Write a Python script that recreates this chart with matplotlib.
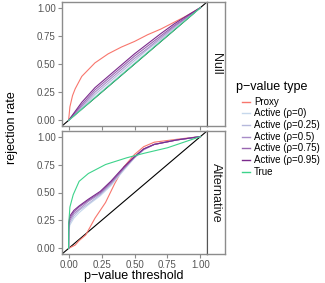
import matplotlib
matplotlib.use("Agg")
import matplotlib.pyplot as plt
from matplotlib.lines import Line2D

plt.rcParams["font.family"] = ["Liberation Sans", "DejaVu Sans"]

# ---- data ----
series_names = ["Proxy", "Active (\u03c1=0)", "Active (\u03c1=0.25)", "Active (\u03c1=0.5)",
                "Active (\u03c1=0.75)", "Active (\u03c1=0.95)", "True"]
series_colors = ["#F8766D", "#c6d8ec", "#b6b9dc", "#a88cc8", "#9865b0", "#7b2a8c", "#3dd38b"]

# Null panel
null_proxy_x = [0, 0.01, 0.03, 0.05, 0.1, 0.2, 0.3, 0.4, 0.5, 0.6, 0.7, 0.8, 0.9, 1.0]
null_proxy_y = [0, 0.12, 0.22, 0.28, 0.39, 0.51, 0.59, 0.65, 0.70, 0.76, 0.81, 0.87, 0.93, 1.0]
null_x = [0, 0.05, 0.1, 0.2, 0.3, 0.4, 0.5, 0.6, 0.7, 0.8, 0.9, 1.0]
null_act0 = [0, 0.05, 0.10, 0.21, 0.31, 0.41, 0.51, 0.61, 0.71, 0.81, 0.905, 1.0]
null_act25 = [0, 0.055, 0.11, 0.23, 0.33, 0.43, 0.53, 0.63, 0.72, 0.82, 0.91, 1.0]
null_act50 = [0, 0.06, 0.125, 0.25, 0.35, 0.45, 0.55, 0.64, 0.735, 0.83, 0.915, 1.0]
null_act75 = [0, 0.07, 0.14, 0.27, 0.37, 0.47, 0.57, 0.66, 0.75, 0.84, 0.92, 1.0]
null_act95 = [0, 0.08, 0.16, 0.29, 0.39, 0.49, 0.59, 0.68, 0.77, 0.855, 0.93, 1.0]
null_true = [0, 0.05, 0.1, 0.2, 0.3, 0.4, 0.5, 0.6, 0.7, 0.8, 0.9, 1.0]

# Alternative panel
alt_proxy_x = [0, 0.05, 0.08, 0.13, 0.2, 0.28, 0.35, 0.42, 0.5, 0.57, 0.65, 0.85, 1.0]
alt_proxy_y = [0, 0.03, 0.07, 0.12, 0.27, 0.41, 0.58, 0.73, 0.84, 0.91, 0.95, 0.98, 1.0]
alt_x = [0, 0.001, 0.01, 0.04, 0.08, 0.15, 0.24, 0.32, 0.42, 0.5, 0.57, 0.65, 0.82, 1.0]
alt_act0 = [0, 0.15, 0.21, 0.27, 0.32, 0.39, 0.47, 0.56, 0.70, 0.81, 0.88, 0.93, 0.97, 1.0]
alt_act25 = [0, 0.17, 0.23, 0.29, 0.34, 0.40, 0.48, 0.57, 0.71, 0.81, 0.885, 0.93, 0.97, 1.0]
alt_act50 = [0, 0.19, 0.25, 0.31, 0.35, 0.42, 0.49, 0.58, 0.715, 0.815, 0.885, 0.93, 0.97, 1.0]
alt_act75 = [0, 0.205, 0.27, 0.325, 0.37, 0.43, 0.50, 0.59, 0.72, 0.82, 0.89, 0.93, 0.97, 1.0]
alt_act95 = [0, 0.22, 0.29, 0.34, 0.38, 0.44, 0.51, 0.60, 0.73, 0.82, 0.89, 0.93, 0.97, 1.0]
alt_true_x = [0, 0.001, 0.01, 0.035, 0.08, 0.15, 0.28, 0.44, 0.57, 0.75, 1.0]
alt_true_y = [0, 0.22, 0.37, 0.48, 0.60, 0.67, 0.75, 0.81, 0.85, 0.90, 1.0]

ticks = [0, 0.25, 0.5, 0.75, 1.0]
tick_labels = ["0.00", "0.25", "0.50", "0.75", "1.00"]

W, H = 325, 283
fig = plt.figure(figsize=(W / 100, H / 100), dpi=100)
fig.patch.set_facecolor("white")


def px(left, top, right, bottom):
    return [left / W, (H - bottom) / H, (right - left) / W, (bottom - top) / H]


border = "#8c8c8c"


def style_panel(ax, show_x):
    ax.set_xlim(-0.05, 1.05)
    ax.set_ylim(-0.05, 1.05)
    ax.set_xticks(ticks)
    ax.set_yticks(ticks)
    ax.set_yticklabels(tick_labels)
    if show_x:
        ax.set_xticklabels(tick_labels)
    else:
        ax.set_xticklabels([])
        ax.tick_params(axis="x", length=0)
    ax.tick_params(colors=border, labelcolor="#555555", labelsize=7, length=3, width=0.8, pad=1.5)
    for s in ax.spines.values():
        s.set_color(border)
        s.set_linewidth(1.0)


def strip(rect, label):
    sax = fig.add_axes(rect)
    sax.set_xticks([])
    sax.set_yticks([])
    for s in sax.spines.values():
        s.set_color(border)
        s.set_linewidth(1.0)
    sax.spines["left"].set_color("#555555")
    sax.spines["left"].set_linewidth(0.8)
    sax.text(0.5, 0.5, label, rotation=270, ha="center", va="center",
             fontsize=9, color="#1a1a1a", transform=sax.transAxes)


lw = 0.8

# Null panel
ax1 = fig.add_axes(px(62, 2, 207, 126))
ax1.plot([-0.05, 1.05], [-0.05, 1.05], color="black", lw=lw)
ax1.plot(null_proxy_x, null_proxy_y, color=series_colors[0], lw=lw)
for ys, c in zip([null_act0, null_act25, null_act50, null_act75, null_act95], series_colors[1:6]):
    ax1.plot(null_x, ys, color=c, lw=lw)
ax1.plot(null_x, null_true, color=series_colors[6], lw=lw)
style_panel(ax1, False)
strip(px(207, 2, 225, 126), "Null")

# Alternative panel
ax2 = fig.add_axes(px(62, 131, 207, 254))
ax2.plot([-0.05, 1.05], [-0.05, 1.05], color="black", lw=lw)
ax2.plot(alt_proxy_x, alt_proxy_y, color=series_colors[0], lw=lw)
for ys, c in zip([alt_act0, alt_act25, alt_act50, alt_act75, alt_act95], series_colors[1:6]):
    ax2.plot(alt_x, ys, color=c, lw=lw)
ax2.plot(alt_true_x, alt_true_y, color=series_colors[6], lw=lw)
style_panel(ax2, True)
strip(px(207, 131, 225, 254), "Alternative")

fig.text(134 / W, 1 - 279 / H, "p\u2212value threshold", ha="center", va="baseline", fontsize=9)
fig.text(12 / W, 1 - 128 / H, "rejection rate", ha="center", va="center", rotation=90, fontsize=9)

# legend drawn by hand (title flush left, short keys indented)
fig.text(236 / W, 1 - 87 / H, "p\u2212value type", ha="left", va="center", fontsize=9)
for i, (name, c) in enumerate(zip(series_names, series_colors)):
    y = 1 - (101.7 + i * 11.67) / H
    fig.add_artist(Line2D([242 / W, 250 / W], [y, y], color=c, lw=1.0, transform=fig.transFigure))
    fig.text(254 / W, y, name, ha="left", va="center", fontsize=7)

fig.savefig("out.png", dpi=100)
